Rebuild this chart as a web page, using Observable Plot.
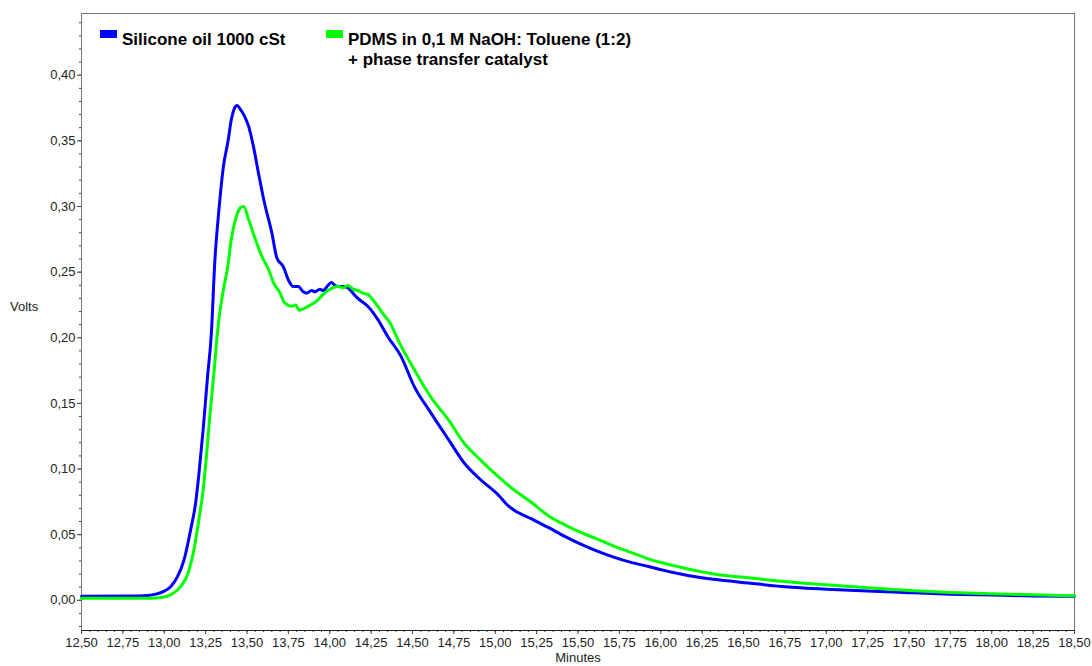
<!DOCTYPE html>
<html>
<head>
<meta charset="utf-8">
<script src="https://cdn.jsdelivr.net/npm/d3@7"></script>
<script src="https://cdn.jsdelivr.net/npm/@observablehq/plot@0.6"></script>
<style>
  html, body { margin: 0; padding: 0; background: #fff; }
  #chart { position: relative; width: 1092px; height: 666px; font-family: "Liberation Sans", Arial, sans-serif; }
  #chart svg { display: block; }
  .legend { position: absolute; font-weight: bold; font-size: 17px; color: #000; line-height: 20px; }
  .swatch { position: absolute; width: 17px; height: 8px; }
  .ylabel { position: absolute; left: 10px; top: 299px; font-size: 13px; color: #222; }
</style>
</head>
<body>
<div id="chart"></div>
<script>
// Retention time (minutes) and detector signal (volts) for each sample
const siliconeTime = [12.50, 12.80, 12.90, 12.95, 13.00, 13.04, 13.08, 13.12, 13.16, 13.19, 13.21, 13.235, 13.26, 13.285, 13.305, 13.33, 13.357, 13.387, 13.405, 13.425, 13.44, 13.46, 13.48, 13.51, 13.54, 13.57, 13.605, 13.65, 13.68, 13.72, 13.75, 13.78, 13.81, 13.84, 13.86, 13.89, 13.91, 13.94, 13.96, 13.99, 14.01, 14.03, 14.05, 14.08, 14.11, 14.14, 14.17, 14.23, 14.29, 14.35, 14.43, 14.51, 14.61, 14.72, 14.81, 14.91, 15.02, 15.07, 15.11, 15.22, 15.32, 15.42, 15.52, 15.62, 15.72, 15.82, 15.92, 16.02, 16.12, 16.22, 16.32, 16.53, 16.73, 17.00, 17.25, 17.50, 17.75, 18.00, 18.25, 18.50];
const siliconeVolts = [0.003, 0.0032, 0.0037, 0.0047, 0.007, 0.0106, 0.018, 0.031, 0.054, 0.0745, 0.097, 0.130, 0.168, 0.204, 0.257, 0.297, 0.330, 0.351, 0.366, 0.375, 0.377, 0.374, 0.370, 0.361, 0.345, 0.325, 0.303, 0.280, 0.261, 0.254, 0.244, 0.239, 0.239, 0.235, 0.234, 0.236, 0.235, 0.237, 0.236, 0.240, 0.242, 0.240, 0.239, 0.239, 0.238, 0.234, 0.230, 0.224, 0.214, 0.201, 0.186, 0.163, 0.143, 0.122, 0.105, 0.092, 0.080, 0.073, 0.069, 0.062, 0.0555, 0.0487, 0.0426, 0.0373, 0.0327, 0.0289, 0.0259, 0.0228, 0.0200, 0.0177, 0.016, 0.0132, 0.0106, 0.0085, 0.0070, 0.0058, 0.0047, 0.0040, 0.0033, 0.003];

const pdmsTime = [12.50, 12.90, 12.95, 13.00, 13.05, 13.10, 13.145, 13.18, 13.21, 13.235, 13.255, 13.275, 13.30, 13.315, 13.33, 13.357, 13.387, 13.405, 13.435, 13.46, 13.48, 13.51, 13.545, 13.59, 13.63, 13.66, 13.70, 13.725, 13.77, 13.795, 13.815, 13.84, 13.87, 13.90, 13.93, 13.96, 13.99, 14.02, 14.05, 14.08, 14.11, 14.14, 14.17, 14.20, 14.23, 14.26, 14.29, 14.33, 14.37, 14.41, 14.51, 14.61, 14.72, 14.81, 14.91, 15.02, 15.11, 15.22, 15.32, 15.42, 15.52, 15.62, 15.72, 15.82, 15.92, 16.02, 16.12, 16.22, 16.32, 16.53, 16.73, 17.00, 17.25, 17.50, 17.75, 18.00, 18.25, 18.50];
const pdmsVolts = [0.0015, 0.0015, 0.0018, 0.0025, 0.005, 0.0106, 0.021, 0.039, 0.062, 0.084, 0.110, 0.140, 0.173, 0.195, 0.214, 0.236, 0.257, 0.275, 0.292, 0.299, 0.300, 0.290, 0.277, 0.262, 0.252, 0.242, 0.234, 0.227, 0.224, 0.225, 0.221, 0.222, 0.224, 0.226, 0.229, 0.233, 0.236, 0.238, 0.239, 0.238, 0.240, 0.237, 0.236, 0.234, 0.233, 0.229, 0.224, 0.217, 0.210, 0.199, 0.176, 0.155, 0.137, 0.120, 0.107, 0.094, 0.0844, 0.0745, 0.0645, 0.0575, 0.0515, 0.0465, 0.0411, 0.0365, 0.0318, 0.0282, 0.0252, 0.0224, 0.0200, 0.0172, 0.0145, 0.0118, 0.0095, 0.0075, 0.006, 0.005, 0.0042, 0.0035];

const seriesNames = ["Silicone oil 1000 cSt", "PDMS in 0,1 M NaOH: Toluene (1:2)", "+ phase transfer catalyst"];
const seriesColors = ["#0000ff", "#00ff00"];

const xTicks = [12.50, 12.75, 13.00, 13.25, 13.50, 13.75, 14.00, 14.25, 14.50, 14.75, 15.00, 15.25, 15.50, 15.75, 16.00, 16.25, 16.50, 16.75, 17.00, 17.25, 17.50, 17.75, 18.00, 18.25, 18.50];
const yTicks = [0.00, 0.05, 0.10, 0.15, 0.20, 0.25, 0.30, 0.35, 0.40];

const comma2 = d => d.toFixed(2).replace(".", ",");

const silicone = siliconeTime.map((t, i) => ({t, v: siliconeVolts[i]}));
const pdms = pdmsTime.map((t, i) => ({t, v: pdmsVolts[i]}));

const xMinor = d3.range(12.5, 18.5001, 0.05);
const yMinor = d3.range(-0.02, 0.4451, 0.01);

const chart = Plot.plot({
  width: 1092,
  height: 666,
  marginLeft: 81,
  marginRight: 18,
  marginTop: 13,
  marginBottom: 36,
  style: {fontFamily: "'Liberation Sans', Arial, sans-serif", fontSize: "13px", color: "#222", background: "#fff"},
  x: {domain: [12.5, 18.5]},
  y: {domain: [-0.023, 0.447]},
  marks: [
    Plot.frame({stroke: "#777"}),
    Plot.axisX({ticks: xMinor, tickSize: 2, text: null, label: null, stroke: "#444"}),
    Plot.axisX({ticks: xTicks, tickSize: 4, tickPadding: 3, tickFormat: comma2, stroke: "#444",
      label: "Minutes", labelAnchor: "center", labelArrow: "none", labelOffset: 31}),
    Plot.axisY({ticks: yMinor, tickSize: 2, text: null, label: null, stroke: "#444"}),
    Plot.axisY({ticks: yTicks, tickSize: 4, tickPadding: 2, tickFormat: comma2, label: null, stroke: "#444"}),
    Plot.ruleY([-0.023], {stroke: "#222"}),
    Plot.line(silicone, {x: "t", y: "v", stroke: seriesColors[0], strokeWidth: 3, curve: "monotone-x"}),
    Plot.line(pdms, {x: "t", y: "v", stroke: seriesColors[1], strokeWidth: 3, curve: "monotone-x"})
  ]
});

const root = document.getElementById("chart");
root.appendChild(chart);

// Legend inside the plotting frame
function addSwatch(color, left, top) {
  const s = document.createElement("div");
  s.className = "swatch";
  s.style.background = color;
  s.style.left = left + "px";
  s.style.top = top + "px";
  root.appendChild(s);
}
function addLegendText(html, left, top) {
  const d = document.createElement("div");
  d.className = "legend";
  d.style.left = left + "px";
  d.style.top = top + "px";
  d.innerHTML = html;
  root.appendChild(d);
}
addSwatch(seriesColors[0], 100, 30);
addLegendText(seriesNames[0], 122, 30);
addSwatch(seriesColors[1], 326, 30);
addLegendText(seriesNames[1] + "<br>" + seriesNames[2], 348, 30);

const yl = document.createElement("div");
yl.className = "ylabel";
yl.textContent = "Volts";
root.appendChild(yl);
</script>
</body>
</html>
